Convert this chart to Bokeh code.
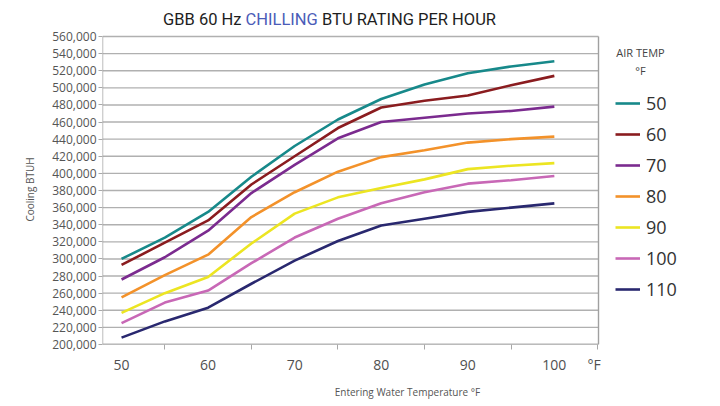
from bokeh.plotting import figure
from bokeh.layouts import column
from bokeh.models import (Range1d, FixedTicker, NumeralTickFormatter, Label, Legend,
                          LegendItem, Div)
from bokeh.embed import file_html
from bokeh.resources import INLINE

# ---- data ----
water_temp = [50, 55, 60, 65, 70, 75, 80, 85, 90, 95, 100]
air_temps = ["50", "60", "70", "80", "90", "100", "110"]
btu_50 = [300000, 325000, 355000, 396000, 432000, 463000, 487000, 504000, 517000, 525000, 531000]
btu_60 = [293000, 319000, 345000, 387000, 420000, 453000, 477000, 485000, 491000, 503000, 514000]
btu_70 = [276000, 302000, 333000, 377000, 410000, 441000, 460000, 465000, 470000, 473000, 478000]
btu_80 = [255000, 281000, 305000, 349000, 378000, 402000, 419000, 427000, 436000, 440000, 443000]
btu_90 = [237000, 260000, 279000, 318000, 353000, 372000, 383000, 393000, 405000, 409000, 412000]
btu_100 = [225000, 249000, 263000, 295000, 325000, 347000, 365000, 378000, 388000, 392000, 397000]
btu_110 = [208000, 227000, 243000, 271000, 298000, 321000, 339000, 347000, 355000, 360000, 365000]
x_tick_labels = [50, 60, 70, 80, 90, 100]
x_unit_tick = 104.6
x_minor_ticks = [55, 65, 75, 85, 95, 105]
y_ticks = list(range(200000, 560001, 20000))

series = [btu_50, btu_60, btu_70, btu_80, btu_90, btu_100, btu_110]
colors = ["#17898a", "#8a1c1f", "#7b2b8f", "#f3922a", "#ece522", "#c868b6", "#29286f"]

FONT = "Open Sans"
GRID = "#b0b0b0"

# plot box limits (data units)
X_MIN, X_MAX = 47.8, 105.1
Y_MIN, Y_MAX = 200000, 560000

title_html = (
    '<div style="position:relative;width:712px;height:26px;">'
    '<span style="position:absolute;left:163px;top:8px;white-space:nowrap;'
    'font-family:Roboto;font-size:16.5px;color:#1e1e1e;">'
    'GBB 60 Hz <span style="color:#4b5cb8;">CHILLING</span> BTU RATING PER HOUR'
    '</span></div>'
)
title_div = Div(text=title_html, width=712, height=26, margin=(0, 0, 0, 0))

p = figure(width=712, height=376, output_backend="svg", toolbar_location=None,
           x_range=Range1d(X_MIN, 118.27), y_range=Range1d(Y_MIN, 562340),
           min_border_left=102, min_border_right=0, min_border_top=8,
           min_border_bottom=58, margin=(0, 0, 0, 0))
p.outline_line_color = None
p.background_fill_color = "white"
p.border_fill_color = "white"
p.grid.visible = False

# gridlines and plot box drawn only over the chart area
n = len(y_ticks)
p.segment(x0=[X_MIN] * n, y0=y_ticks, x1=[X_MAX] * n, y1=y_ticks,
          line_color=GRID, line_width=1.4)
p.segment(x0=[X_MIN, X_MAX, X_MIN], y0=[Y_MIN, Y_MIN, Y_MIN],
          x1=[X_MIN, X_MAX, X_MAX], y1=[Y_MAX, Y_MAX, Y_MIN],
          line_color="#a0a0a0", line_width=1.4)

# y axis
p.yaxis.ticker = FixedTicker(ticks=y_ticks)
p.yaxis.formatter = NumeralTickFormatter(format="0,0")
p.yaxis.major_label_text_font = FONT
p.yaxis.major_label_text_font_size = "12px"
p.yaxis.major_label_text_color = "#555555"
p.yaxis.major_tick_out = 4
p.yaxis.major_tick_in = 0
p.yaxis.minor_tick_out = 0
p.yaxis.minor_tick_in = 0
p.yaxis.major_tick_line_color = "#a8a8a8"
p.yaxis.axis_line_color = None
p.yaxis.major_label_standoff = 2
p.yaxis.axis_label = "Cooling BTUH"
p.yaxis.axis_label_text_font = FONT
p.yaxis.axis_label_text_font_size = "10px"
p.yaxis.axis_label_text_font_style = "normal"
p.yaxis.axis_label_text_color = "#555555"
p.yaxis.axis_label_standoff = 12

# x axis
p.xaxis.ticker = FixedTicker(ticks=x_tick_labels + [x_unit_tick], minor_ticks=x_minor_ticks)
p.xaxis.major_label_overrides = {x_unit_tick: "\u00b0F"}
p.xaxis.major_label_text_font = FONT
p.xaxis.major_label_text_font_size = "14px"
p.xaxis.major_label_text_color = "#505050"
p.xaxis.major_tick_out = 0
p.xaxis.major_tick_in = 0
p.xaxis.minor_tick_out = 5
p.xaxis.minor_tick_in = 0
p.xaxis.minor_tick_line_color = "#a8a8a8"
p.xaxis.axis_line_color = None
p.xaxis.major_label_standoff = 5
p.xaxis.axis_label = "Entering Water Temperature \u00b0F"
p.xaxis.axis_label_text_font = FONT
p.xaxis.axis_label_text_font_size = "10px"
p.xaxis.axis_label_text_font_style = "normal"
p.xaxis.axis_label_text_color = "#555555"
p.xaxis.axis_label_standoff = 8

items = []
for name, vals, col in zip(air_temps, series, colors):
    r = p.line(water_temp, vals, line_color=col, line_width=2.6)
    items.append(LegendItem(label=name, renderers=[r]))

# frame-relative screen coords: x = page_x - 102, y = 344 - page_y
legend = Legend(items=items, location=(513, 40), glyph_width=25, glyph_height=20,
                label_height=31, label_standoff=6, spacing=0, padding=0, margin=0,
                border_line_color=None, background_fill_alpha=0,
                label_text_font=FONT, label_text_font_size="18px",
                label_text_color="#333333")
p.add_layout(legend, "center")

p.add_layout(Label(x=538, y=344 - 52, x_units="screen", y_units="screen", text="AIR TEMP",
                   text_align="center", text_baseline="middle", text_font=FONT,
                   text_font_size="11px", text_color="#444444"))
p.add_layout(Label(x=538, y=344 - 70, x_units="screen", y_units="screen", text="\u00b0F",
                   text_align="center", text_baseline="middle", text_font=FONT,
                   text_font_size="11px", text_color="#444444"))

layout = column(title_div, p, spacing=0, margin=(0, 0, 0, 0))
open("out.html", "w").write(file_html(layout, INLINE))
